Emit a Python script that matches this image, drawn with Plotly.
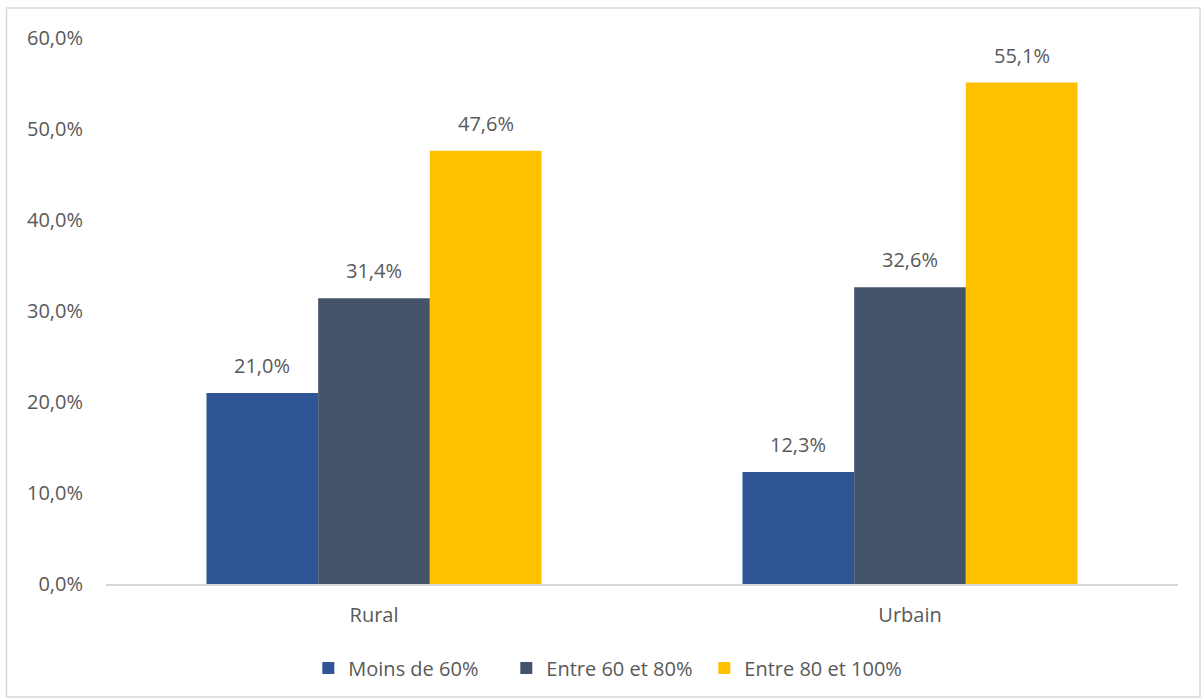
import plotly.graph_objects as go

categories = ["Rural", "Urbain"]
series_names = ["Moins de 60%", "Entre 60 et 80%", "Entre 80 et 100%"]
moins_60 = [21.0, 12.3]
entre_60_80 = [31.4, 32.6]
entre_80_100 = [47.6, 55.1]
y_ticks = [0, 10, 20, 30, 40, 50, 60]
y_tick_labels = ["0,0%", "10,0%", "20,0%", "30,0%", "40,0%", "50,0%", "60,0%"]

colors = ["#2F5597", "#44546A", "#FFC000"]
text_color = "#595959"
font_family = "Open Sans, Noto Sans, sans-serif"
font_size = 20

def fmt(v):
    return f"{v:.1f}".replace(".", ",") + "%"

# plot area geometry (px) used to place value labels over each bar
plot_w = 1201 - 106 - 23
bargap = 0.375
bar_px = plot_w / len(categories) * (1 - bargap) / len(series_names)

fig = go.Figure()
annotations = []
all_series = [moins_60, entre_60_80, entre_80_100]
for i, (name, vals, col) in enumerate(zip(series_names, all_series, colors)):
    fig.add_trace(go.Bar(
        x=categories, y=vals, name=name,
        marker=dict(color=col, line=dict(width=0)),
        hoverinfo="x+y+name",
    ))
    for cat, v in zip(categories, vals):
        annotations.append(dict(
            x=cat, y=v, xref="x", yref="y", text=fmt(v), showarrow=False,
            xshift=(i - 1) * bar_px, yshift=12, yanchor="bottom",
            font=dict(size=font_size, color=text_color, family=font_family),
        ))

fig.update_layout(
    width=1201, height=698,
    barmode="group", bargap=bargap, bargroupgap=0,
    paper_bgcolor="white", plot_bgcolor="white",
    margin=dict(l=106, r=23, t=38, b=114),
    font=dict(family=font_family, size=font_size, color=text_color),
    xaxis=dict(showgrid=False, showline=True, linecolor="#D9D9D9", linewidth=1.5,
               ticks="", tickfont=dict(size=font_size, color=text_color), ticklabelstandoff=12),
    yaxis=dict(range=[0, 60], tickvals=y_ticks, ticktext=y_tick_labels,
               showgrid=False, zeroline=False, showline=False, ticks="",
               tickfont=dict(size=font_size, color=text_color), ticklabelstandoff=22),
    legend=dict(orientation="h", xref="container", yref="container",
                x=0.504, y=0.043, xanchor="center", yanchor="middle",
                font=dict(size=font_size, color=text_color), itemwidth=30,
                entrywidth=153, entrywidthmode="pixels",
                traceorder="normal"),
    annotations=annotations,
    shapes=[dict(type="rect", xref="paper", yref="paper",
                 x0=-99.5 / plot_w, x1=1 + 22 / plot_w, y0=-113 / 546, y1=1 + 30 / 546,
                 line=dict(color="#D9D9D9", width=1.5), fillcolor="rgba(0,0,0,0)",
                 layer="below")],
)

fig.write_html("out.html")
